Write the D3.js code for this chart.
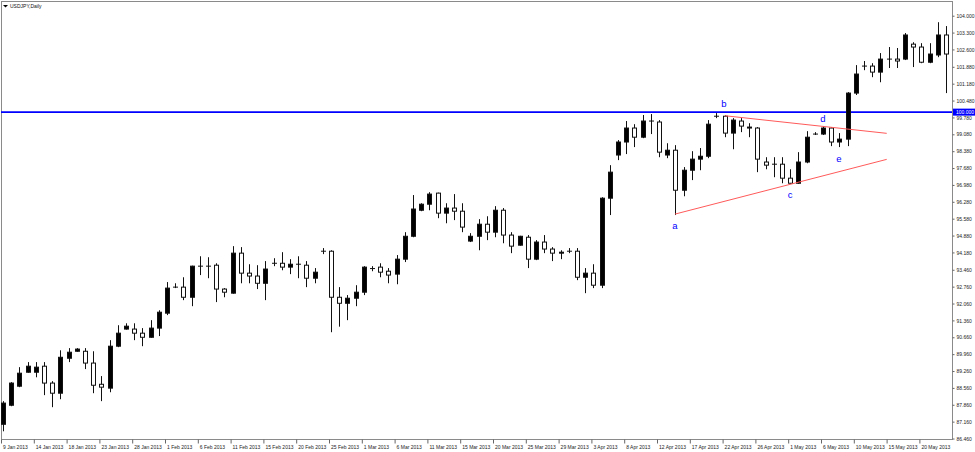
<!DOCTYPE html>
<html><head><meta charset="utf-8">
<script src="https://cdn.jsdelivr.net/npm/d3@7"></script>
<style>
body{margin:0;background:#fff}
svg{display:block}
text{font-family:"Liberation Sans",Arial,sans-serif}
</style>
</head><body>
<svg id="chart" width="975" height="452"></svg>
<script>
// ---- data (USDJPY daily) ----
const openP  = [87.05,87.84,88.63,89.21,89.21,89.46,88.76,88.34,89.79,90.08,90.08,89.59,88.71,88.55,90.29,91.00,91.00,90.83,90.66,91.04,
91.66,92.74,92.74,92.32,93.61,93.61,93.65,92.66,92.49,94.15,93.32,93.20,92.90,93.73,93.73,93.57,93.69,93.65,93.11,94.23,
94.23,92.32,92.07,92.28,92.53,93.51,93.57,93.40,93.28,93.90,94.85,95.93,96.18,96.64,95.81,96.02,95.89,94.65,94.85,95.35,
95.02,95.93,94.90,94.48,94.81,93.90,94.61,94.32,94.15,94.23,94.23,93.15,93.32,92.82,96.43,98.22,98.76,99.34,98.96,99.63,
99.59,98.22,98.42,96.76,97.59,98.05,98.17,99.83,99.83,99.13,99.63,99.38,99.34,97.93,97.84,97.84,97.26,97.05,97.93,99.09,
99.09,99.34,98.76,98.88,100.79,101.91,101.91,101.66,102.20,102.20,102.20,102.82,102.70,102.07,102.37,103.20];
const highP  = [88.01,88.80,89.42,89.63,89.63,89.63,88.84,90.12,90.21,90.21,90.21,90.08,89.05,90.54,91.16,91.24,91.24,91.04,91.37,91.78,
92.95,92.90,93.15,93.63,94.02,93.98,93.73,92.70,94.44,94.40,93.69,93.65,93.82,93.94,94.19,93.90,94.02,93.82,93.53,94.36,
94.27,92.74,92.41,92.82,93.61,93.61,93.73,93.53,94.07,95.02,96.56,96.22,96.68,96.66,96.22,96.60,96.22,94.98,95.56,95.68,
96.10,96.02,95.02,94.87,94.90,94.69,94.90,94.40,94.27,94.36,94.36,93.53,93.69,96.47,97.80,98.84,99.63,99.50,99.88,99.92,
99.67,98.71,98.63,97.72,98.38,98.51,99.67,99.96,99.88,99.75,99.75,99.54,99.38,98.13,98.13,98.13,97.63,98.34,99.21,99.17,
99.42,99.38,99.13,100.83,101.95,102.12,102.03,102.45,102.70,102.66,103.28,102.90,102.86,102.86,103.73,103.57];
const lowP   = [86.76,87.80,88.59,89.19,89.00,88.26,87.76,88.09,89.63,90.06,89.34,88.34,88.01,88.38,90.25,90.98,90.54,90.29,90.64,90.71,
91.58,92.70,92.20,91.95,93.24,93.11,92.12,92.32,92.47,92.90,92.90,92.66,92.20,93.61,93.44,93.28,93.11,92.74,92.90,94.11,
90.87,91.10,91.37,91.95,92.41,93.40,93.15,92.90,92.86,93.78,94.81,95.89,95.93,95.60,95.39,95.52,95.02,94.61,94.27,94.69,
94.81,94.56,94.15,94.46,93.53,93.86,94.15,93.82,93.90,94.15,93.03,92.49,92.70,92.70,95.73,98.01,98.26,98.55,98.92,99.09,
98.13,98.09,95.73,96.51,97.18,97.59,98.09,99.75,98.96,98.46,99.17,98.96,97.51,97.63,97.30,97.05,97.03,97.03,97.88,99.05,
99.05,98.59,98.55,98.59,100.71,101.74,101.45,101.24,101.83,101.83,102.16,101.87,102.03,102.03,102.28,100.79];
const closeP = [87.93,88.76,89.17,89.46,89.42,88.76,88.34,89.83,90.04,90.17,89.59,88.67,88.59,90.29,90.83,91.12,90.83,90.66,91.04,91.70,
92.70,92.74,92.32,93.61,93.61,93.61,92.66,92.53,94.15,93.32,93.20,92.90,93.49,93.73,93.57,93.69,93.69,93.11,93.36,94.23,
92.32,92.07,92.28,92.53,93.57,93.51,93.36,93.24,93.90,94.85,95.98,96.18,96.60,95.81,96.02,95.89,95.23,94.85,95.35,95.02,
95.93,94.90,94.44,94.85,93.90,94.61,94.32,94.15,94.19,94.23,93.15,93.32,92.82,96.43,97.51,98.76,99.34,98.96,99.63,99.63,
98.34,98.42,96.76,97.59,98.05,98.17,99.50,99.83,99.13,99.67,99.42,99.34,98.05,97.80,97.84,97.26,97.05,97.93,98.96,99.09,
99.34,98.76,98.88,100.79,101.58,101.91,101.66,102.20,102.20,102.12,103.20,102.70,102.07,102.41,103.20,102.41];

const xTickLabels = ["9 Jan 2013","14 Jan 2013","18 Jan 2013","23 Jan 2013","28 Jan 2013","1 Feb 2013","6 Feb 2013",
"11 Feb 2013","15 Feb 2013","20 Feb 2013","25 Feb 2013","1 Mar 2013","6 Mar 2013","11 Mar 2013","15 Mar 2013",
"20 Mar 2013","25 Mar 2013","29 Mar 2013","3 Apr 2013","8 Apr 2013","12 Apr 2013","17 Apr 2013","22 Apr 2013",
"26 Apr 2013","1 May 2013","6 May 2013","10 May 2013","15 May 2013","20 May 2013"];
const barsPerXTick = 4;
const yTickLabels = ["104.000","103.300","102.600","101.880","101.180","100.480","99.780","99.080","98.380","97.680",
"96.980","96.280","95.580","94.880","94.180","93.460","92.760","92.060","91.360","90.660","89.960","89.260","88.560",
"87.860","87.160","86.460"];
const levelPrice = 100.000;
const levelLabel = "100.000";
const trendLines = [
  [{i:81.95,p:95.77},{i:107.77,p:98.04}],
  [{i:88.05,p:99.85},{i:107.77,p:99.12}]
];
const waveLabels = [
  {t:"a",i:81.95,p:95.31},{t:"b",i:87.9,p:100.37},{t:"c",i:95.98,p:96.58},
  {t:"d",i:100.0,p:99.75},{t:"e",i:101.95,p:98.09}
];
const title = "USDJPY,Daily";

// ---- drawing ----
const W=975,H=452, plotL=1, plotR=952, plotT=1, plotB=439;
const svg=d3.select("#chart");
const n=openP.length;
const x=d3.scaleLinear().domain([0,n-1]).range([3,946]);
const y=d3.scaleLinear().domain([86.44,104.61]).range([plotB,plotT]);
const bars=d3.range(n).map(i=>({i,o:openP[i],h:highP[i],l:lowP[i],c:closeP[i]}));

// frame
svg.append("rect").attr("x",plotL+0.5).attr("y",plotT+0.5).attr("width",plotR-plotL).attr("height",plotB-plotT)
  .attr("fill","#fff").attr("stroke","#8a8a8a").attr("stroke-width",1);

// level line
svg.append("line").attr("x1",plotL).attr("x2",plotR).attr("y1",y(levelPrice)).attr("y2",y(levelPrice))
  .attr("stroke","#0000ff").attr("stroke-width",1.6);

// candles
const cx=i=>Math.round(x(i))+0.5;
const g=svg.append("g");
g.selectAll("line.wick").data(bars).join("line").attr("class","wick")
  .attr("x1",d=>cx(d.i)).attr("x2",d=>cx(d.i)).attr("y1",d=>y(d.h)).attr("y2",d=>y(d.l))
  .attr("stroke","#111").attr("stroke-width",1);
g.selectAll("rect.body").data(bars.filter(d=>Math.abs(d.c-d.o)>=0.005)).join("rect").attr("class","body")
  .attr("x",d=>cx(d.i)-2).attr("width",4)
  .attr("y",d=>y(Math.max(d.o,d.c))).attr("height",d=>Math.max(1,Math.abs(y(d.o)-y(d.c))))
  .attr("fill",d=>d.c>d.o?"#000":"#fff").attr("stroke","#111").attr("stroke-width",1);
g.selectAll("line.doji").data(bars.filter(d=>Math.abs(d.c-d.o)<0.005)).join("line").attr("class","doji")
  .attr("x1",d=>cx(d.i)-2.5).attr("x2",d=>cx(d.i)+2.5).attr("y1",d=>y(d.o)).attr("y2",d=>y(d.o))
  .attr("stroke","#111").attr("stroke-width",1);

// trend lines
const tl=d3.line().x(d=>x(d.i)).y(d=>y(d.p));
svg.selectAll("path.trend").data(trendLines).join("path").attr("class","trend")
  .attr("d",tl).attr("fill","none").attr("stroke","#ff5a5a").attr("stroke-width",1);

// wave labels
svg.selectAll("text.wave").data(waveLabels).join("text").attr("class","wave")
  .attr("x",d=>x(d.i)).attr("y",d=>y(d.p)).attr("text-anchor","middle").attr("dominant-baseline","central")
  .attr("font-size",9.5).attr("fill","#0000ff").text(d=>d.t);

// right axis
const yAxis=d3.axisRight(y).tickValues(yTickLabels.map(Number)).tickFormat((d,k)=>yTickLabels[k]).tickSize(2).tickPadding(2);
const ya=svg.append("g").attr("transform",`translate(${plotR+0.5},0)`).call(yAxis);
ya.select(".domain").remove();
ya.selectAll("line").attr("stroke","#666");
ya.selectAll("text").attr("font-size",5).attr("fill","#222").attr("font-family","Liberation Sans, Arial, sans-serif");

// level label box
svg.append("rect").attr("x",plotR+1).attr("y",y(levelPrice)-3.5).attr("width",W-plotR-1).attr("height",7).attr("fill","#0000ff");
svg.append("text").attr("x",plotR+4).attr("y",y(levelPrice)).attr("dominant-baseline","central")
  .attr("font-size",5).attr("fill","#fff").text(levelLabel);

// bottom axis
const xIdx=xTickLabels.map((_,k)=>k*barsPerXTick);
const xAxis=d3.axisBottom(x).tickValues(xIdx).tickFormat((d,k)=>xTickLabels[k]).tickSize(4).tickPadding(2);
const xa=svg.append("g").attr("transform",`translate(-2,${plotB+0.5})`).call(xAxis);
xa.select(".domain").remove();
xa.selectAll("line").attr("stroke","#666");
xa.selectAll("text").attr("font-size",5).attr("fill","#222").attr("text-anchor","start").attr("dx",1.5)
  .attr("font-family","Liberation Sans, Arial, sans-serif");

// title
svg.append("path").attr("d","M3,5 L8,5 L5.5,7.5 Z").attr("fill","#000");
svg.append("text").attr("x",10).attr("y",8).attr("font-size",5).attr("fill","#111").text(title);
</script>
</body></html>
